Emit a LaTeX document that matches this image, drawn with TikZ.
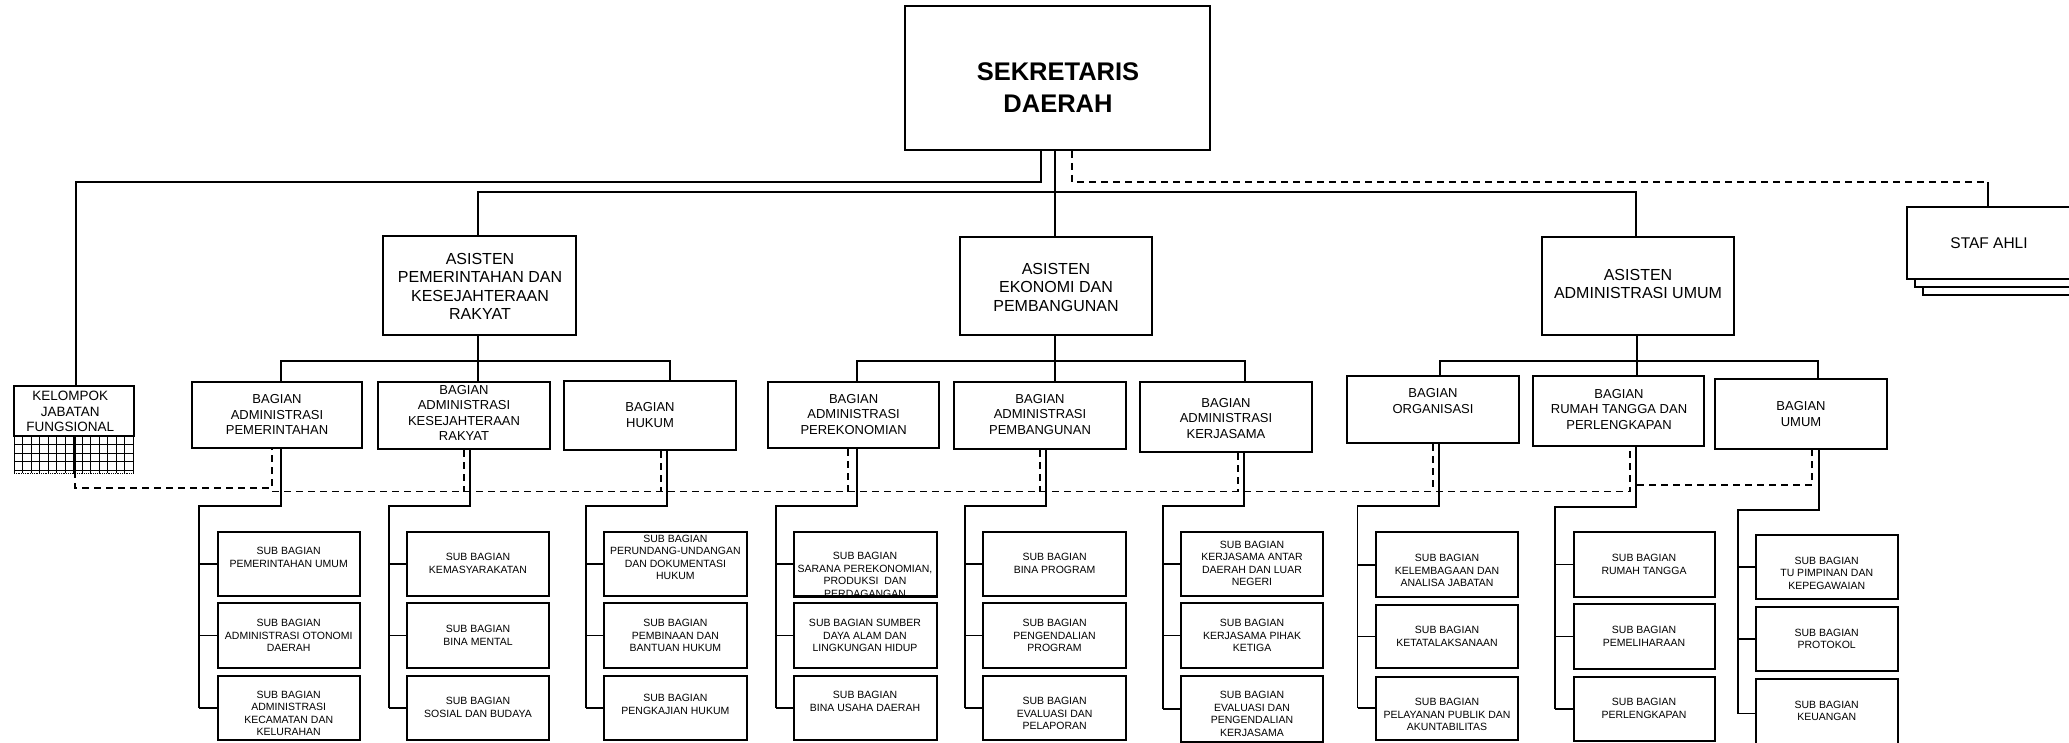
\documentclass[tikz,border=0pt]{standalone}
\usepackage{fontspec}
\setmainfont{Liberation Sans}
\newcommand\bxn[6]{\node[#1, minimum width={(#5-#3)*1pt}, minimum height={(#6-#4)*1pt}] (#2) at ({(#3+#5)/2},{(#4+#6)/2}) {};}
\newcommand\grpl[6]{% bag, dropx, elbowy, spinex, s1, s3 prefix
  \draw[conn] (#2,0 |- #1.south) -- (#2,#3) -- (#4,#3) -- (#6.west -| #4,0);
  \draw[conn] (#5.west -| #4,0) -- (#5.west);
  \draw[conn] (#6.west -| #4,0) -- (#6.west);
}
\begin{document}
\begin{tikzpicture}[x=1pt,y=-1pt,
  bx/.style={draw, line width=2pt, fill=white, inner sep=0pt, rectangle},
  conn/.style={line width=1.8pt},
  dsh/.style={line width=1.8pt, dash pattern=on 7pt off 5pt},
  gl/.style={line width=0.8pt},
  tsek/.style={inner sep=0pt, align=center, font=\fontsize{25.5}{31.5}\selectfont\bfseries},
  tas/.style={inner sep=0pt, align=center, font=\fontsize{16}{18.5}\selectfont},
  tbag/.style={inner sep=0pt, align=center, font=\fontsize{13}{15.5}\selectfont},
  tkel/.style={inner sep=0pt, align=center, font=\fontsize{13.5}{15.5}\selectfont},
  tstaf/.style={inner sep=0pt, align=center, font=\fontsize{15.5}{18}\selectfont},
  tsub/.style={inner sep=0pt, align=center, font=\fontsize{10.5}{12.5}\selectfont},
]
\useasboundingbox (0,0) rectangle (2069,743);
\clip (0,0) rectangle (2069,743);

% ---------- boxes ----------
\bxn{bx}{sek}{905}{6}{1210}{150}
\bxn{bx}{asP}{383}{236}{576}{335}
\bxn{bx}{asE}{960}{237}{1152}{335}
\bxn{bx}{asA}{1542}{237}{1734}{335}
\bxn{bx}{stafc}{1923}{223}{2090}{295}
\bxn{bx}{stafb}{1915}{215}{2082}{287}
\bxn{bx}{staf}{1907}{207}{2072}{279}

\bxn{bx}{b1}{192}{382}{362}{448}
\bxn{bx}{b2}{378}{382}{550}{449}
\bxn{bx}{b3}{563.6}{381}{736}{450}
\bxn{bx}{b4}{768}{382}{938.6}{448}
\bxn{bx}{b5}{954}{382}{1126}{449}
\bxn{bx}{b6}{1140}{382}{1312}{452}
\bxn{bx}{b7}{1347}{376}{1519}{443}
\bxn{bx}{b8}{1532.5}{376}{1704}{446}
\bxn{bx}{b9}{1715}{379}{1887}{449}

\bxn{bx}{s11}{217.5}{531.7}{360}{596}
\bxn{bx}{s12}{217.5}{603}{360}{668}
\bxn{bx}{s13}{217.5}{675.7}{360}{740}
\bxn{bx}{s21}{407}{531.7}{549}{596}
\bxn{bx}{s22}{407}{603}{549}{668}
\bxn{bx}{s23}{407}{675.7}{549}{740}
\bxn{bx}{s31}{604}{531.7}{747}{596}
\bxn{bx}{s32}{604}{603}{747}{668}
\bxn{bx}{s33}{604}{675.7}{747}{740}
\bxn{bx}{s41}{794}{531.7}{937}{596}
\bxn{bx}{s42}{794}{603}{937}{668}
\bxn{bx}{s43}{794}{675.7}{937}{740}
\bxn{bx}{s51}{983}{531.7}{1126}{596}
\bxn{bx}{s52}{983}{603}{1126}{668}
\bxn{bx}{s53}{983}{675.7}{1126}{740}
\bxn{bx}{s61}{1181}{532}{1323}{596}
\bxn{bx}{s62}{1181}{603}{1323}{668}
\bxn{bx}{s63}{1181}{675.7}{1323}{742}
\bxn{bx}{s71}{1376}{532.3}{1518}{597}
\bxn{bx}{s72}{1376}{605}{1518}{668}
\bxn{bx}{s73}{1376}{676.7}{1518}{740}
\bxn{bx}{s81}{1574}{532}{1715}{597}
\bxn{bx}{s82}{1574}{604}{1715}{669}
\bxn{bx}{s83}{1574}{677}{1715}{741}
\bxn{bx}{s91}{1755.7}{535}{1897.7}{599.3}
\bxn{bx}{s92}{1755.7}{607}{1897.7}{671}
\bxn{bx}{s93}{1755.7}{679}{1897.7}{748}

% ---------- kelompok jabatan fungsional ----------
\foreach \i in {0,...,14} \draw[gl] ({14+8.5*\i},436) -- ({14+8.5*\i},473);
\foreach \yy in {444.5,453,461.5,470} \draw[gl] (14,\yy) -- (133,\yy);
\draw[gl, densely dotted] (14,473) -- (133,473);
\bxn{bx}{kel}{14}{386}{134}{436}
\coordinate (kj) at (75,471);

% ---------- top connectors ----------
\draw[conn] (1041,0 |- sek.south) -- (1041,182) -- (76,182) -- (kel.north -| 76,0);
\draw[conn] (kel.south -| 75,0) -- (kj);
\draw[line width=1.4pt] (1055,0 |- sek.south) -- (1055,0 |- asE.north);
\draw[conn] (478,0 |- asP.north) -- (478,192) -- (1636,192) -- (1636,0 |- asA.north);
\draw[dsh] (1072,0 |- sek.south) -- (1072,182) -- (1988,182);
\draw[conn] (1988,182) -- (1988,0 |- staf.north);

% ---------- asisten to bagian ----------
\draw[conn] (478,0 |- asP.south) -- (478,0 |- b2.north);
\draw[conn] (281,0 |- b1.north) -- (281,361) -- (670,361) -- (670,0 |- b3.north);
\draw[conn] (1055,0 |- asE.south) -- (1055,0 |- b5.north);
\draw[conn] (857,0 |- b4.north) -- (857,361) -- (1245,361) -- (1245,0 |- b6.north);
\draw[conn] (1637,0 |- asA.south) -- (1637,0 |- b8.north);
\draw[conn] (1440,0 |- b7.north) -- (1440,361) -- (1818,361) -- (1818,0 |- b9.north);

% ---------- bagian to sub bagian ----------
\grpl{b1}{281}{506}{199}{s11}{s13}   \draw[conn] (s12.west -| 199,0) -- (s12.west);
\grpl{b2}{470}{506}{388.6}{s21}{s23} \draw[conn] (s22.west -| 388.6,0) -- (s22.west);
\grpl{b3}{667}{506}{586}{s31}{s33}   \draw[conn] (s32.west -| 586,0) -- (s32.west);
\grpl{b4}{857}{506}{775.7}{s41}{s43} \draw[conn] (s42.west -| 775.7,0) -- (s42.west);
\grpl{b5}{1046}{506}{965}{s51}{s53}  \draw[conn] (s52.west -| 965,0) -- (s52.west);
\grpl{b6}{1244}{506}{1163}{s61}{s63} \draw[conn] (s62.west -| 1163,0) -- (s62.west);
\grpl{b7}{1439}{506}{1357.5}{s71}{s73} \draw[conn] (s72.west -| 1357.5,0) -- (s72.west);
\grpl{b8}{1636}{506.7}{1555}{s81}{s83} \draw[conn] (s82.west -| 1555,0) -- (s82.west);
\grpl{b9}{1819}{510}{1737.7}{s91}{s93} \draw[conn] (s92.west -| 1737.7,0) -- (s92.west);

% ---------- dashed coordination line ----------
\draw[dsh] (kj) -- (75,488) -- (272,488) -- (272,0 |- b1.south);
\draw[dsh] (272,491.5) -- (1630,491.5) -- (1630,0 |- b8.south);
\foreach \xx/\bb in {464/b2, 661/b3, 848/b4, 1040/b5, 1238/b6, 1433/b7}
  \draw[dsh] (\xx,0 |- \bb.south) -- (\xx,491.5);
\draw[dsh] (1637,485) -- (1812,485) -- (1812,0 |- b9.south);

% ---------- texts ----------
\node[tsek] (tsek) at (1058,87.5) {SEKRETARIS\\DAERAH};
\node[tas] (tasP) at (480,286.5) {ASISTEN\\PEMERINTAHAN DAN\\KESEJAHTERAAN\\RAKYAT};
\node[tas] (tasE) at (1056,287) {ASISTEN\\EKONOMI DAN\\PEMBANGUNAN};
\node[tas] (tasA) at (1638,284) {ASISTEN\\ADMINISTRASI UMUM};
\node[tstaf] (tstaf) at (1989,243) {STAF AHLI};
\node[tkel] (tkel) at (70.3,411.5) {KELOMPOK\\JABATAN\\FUNGSIONAL};

\node[tbag] (tb1) at (277,414.5) {BAGIAN\\ADMINISTRASI\\PEMERINTAHAN};
\node[tbag] (tb2) at (464,413) {BAGIAN\\ADMINISTRASI\\KESEJAHTERAAN\\RAKYAT};
\node[tbag] (tb3) at (650,415) {BAGIAN\\HUKUM};
\node[tbag] (tb4) at (853.6,414.5) {BAGIAN\\ADMINISTRASI\\PEREKONOMIAN};
\node[tbag] (tb5) at (1040,414.5) {BAGIAN\\ADMINISTRASI\\PEMBANGUNAN};
\node[tbag] (tb6) at (1226,418.5) {BAGIAN\\ADMINISTRASI\\KERJASAMA};
\node[tbag] (tb7) at (1433,401) {BAGIAN\\ORGANISASI};
\node[tbag] (tb8) at (1619,409.5) {BAGIAN\\RUMAH TANGGA DAN\\PERLENGKAPAN};
\node[tbag] (tb9) at (1801,414) {BAGIAN\\UMUM};

\node[tsub] (ts11) at (288.7,557.5) {SUB BAGIAN\\PEMERINTAHAN UMUM};
\node[tsub] (ts12) at (288.7,635.5) {SUB BAGIAN\\ADMINISTRASI OTONOMI\\DAERAH};
\node[tsub] (ts13) at (288.7,713.5) {SUB BAGIAN\\ADMINISTRASI\\KECAMATAN DAN\\KELURAHAN};
\node[tsub] (ts21) at (478,563.5) {SUB BAGIAN\\KEMASYARAKATAN};
\node[tsub] (ts22) at (478,635.5) {SUB BAGIAN\\BINA MENTAL};
\node[tsub] (ts23) at (478,707.5) {SUB BAGIAN\\SOSIAL DAN BUDAYA};
\node[tsub] (ts31) at (675.4,557.5) {SUB BAGIAN\\PERUNDANG-UNDANGAN\\DAN DOKUMENTASI\\HUKUM};
\node[tsub] (ts32) at (675.4,635.5) {SUB BAGIAN\\PEMBINAAN DAN\\BANTUAN HUKUM};
\node[tsub] (ts33) at (675.4,704.5) {SUB BAGIAN\\PENGKAJIAN HUKUM};
\begin{scope}
\clip (s41.north west) rectangle ([yshift=1pt]s41.south east);
\node[tsub] (ts41) at (865,575) {SUB BAGIAN\\SARANA PEREKONOMIAN,\\PRODUKSI\ \ DAN\\PERDAGANGAN};
\end{scope}
\draw[line width=2pt] (s41.south west) -- (s41.south east);
\node[tsub] (ts42) at (865,635.5) {SUB BAGIAN SUMBER\\DAYA ALAM DAN\\LINGKUNGAN HIDUP};
\node[tsub] (ts43) at (865,701.5) {SUB BAGIAN\\BINA USAHA DAERAH};
\node[tsub] (ts51) at (1054.6,563.5) {SUB BAGIAN\\BINA PROGRAM};
\node[tsub] (ts52) at (1054.6,635.5) {SUB BAGIAN\\PENGENDALIAN\\PROGRAM};
\node[tsub] (ts53) at (1054.6,713.5) {SUB BAGIAN\\EVALUASI DAN\\PELAPORAN};
\node[tsub] (ts61) at (1252,563.5) {SUB BAGIAN\\KERJASAMA ANTAR\\DAERAH DAN LUAR\\NEGERI};
\node[tsub] (ts62) at (1252,635.5) {SUB BAGIAN\\KERJASAMA PIHAK\\KETIGA};
\node[tsub] (ts63) at (1252,714) {SUB BAGIAN\\EVALUASI DAN\\PENGENDALIAN\\KERJASAMA};
\node[tsub] (ts71) at (1447,570.5) {SUB BAGIAN\\KELEMBAGAAN DAN\\ANALISA JABATAN};
\node[tsub] (ts72) at (1447,636.5) {SUB BAGIAN\\KETATALAKSANAAN};
\node[tsub] (ts73) at (1447,714.5) {SUB BAGIAN\\PELAYANAN PUBLIK DAN\\AKUNTABILITAS};
\node[tsub] (ts81) at (1644,564.5) {SUB BAGIAN\\RUMAH TANGGA};
\node[tsub] (ts82) at (1644,636.5) {SUB BAGIAN\\PEMELIHARAAN};
\node[tsub] (ts83) at (1644,708.5) {SUB BAGIAN\\PERLENGKAPAN};
\node[tsub] (ts91) at (1826.7,573) {SUB BAGIAN\\TU PIMPINAN DAN\\KEPEGAWAIAN};
\node[tsub] (ts92) at (1826.7,639) {SUB BAGIAN\\PROTOKOL};
\node[tsub] (ts93) at (1826.7,711) {SUB BAGIAN\\KEUANGAN};
\end{tikzpicture}
\end{document}
